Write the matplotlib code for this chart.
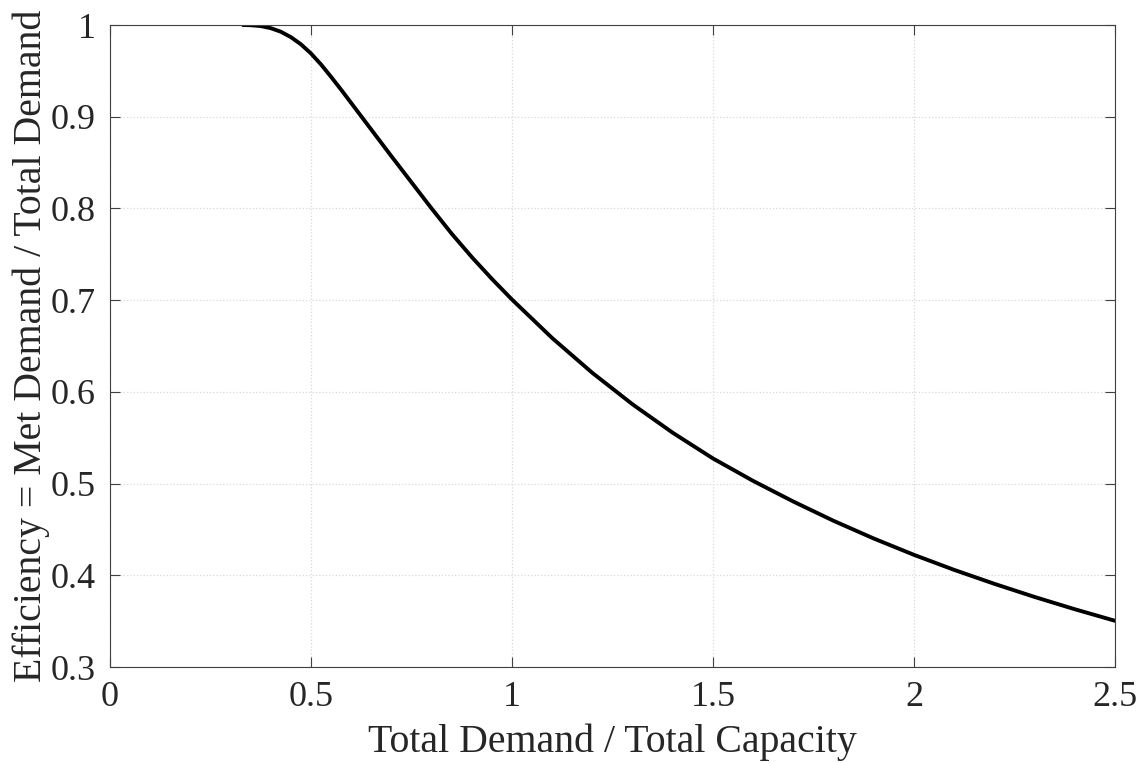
import numpy as np
import matplotlib
matplotlib.use('Agg')
import matplotlib.pyplot as plt

# values
load = [0.333, 0.35, 0.375, 0.40, 0.425, 0.45, 0.475, 0.50, 0.525, 0.55,
        0.575, 0.60, 0.625, 0.65, 0.675, 0.70, 0.75, 0.80, 0.85, 0.90,
        0.95, 1.0, 1.1, 1.2, 1.3, 1.4, 1.5, 1.6, 1.7, 1.8,
        1.9, 2.0, 2.1, 2.2, 2.3, 2.4, 2.5]
efficiency = [1.0, 0.9998, 0.9989, 0.9966, 0.9927, 0.9868, 0.979, 0.969, 0.957, 0.9435,
              0.9295, 0.915, 0.9005, 0.886, 0.8715, 0.857, 0.8285, 0.800, 0.7725, 0.747,
              0.7232, 0.7007, 0.6587, 0.6207, 0.5864, 0.5554, 0.5274, 0.5029, 0.4804, 0.4594,
              0.4401, 0.4223, 0.4059, 0.3907, 0.3764, 0.363, 0.3504]

xticks = [0, 0.5, 1, 1.5, 2, 2.5]
xticklabels = ['0', '0.5', '1', '1.5', '2', '2.5']
yticks = [0.3, 0.4, 0.5, 0.6, 0.7, 0.8, 0.9, 1.0]
yticklabels = ['0.3', '0.4', '0.5', '0.6', '0.7', '0.8', '0.9', '1']

plt.rcParams['font.family'] = ['Liberation Serif', 'DejaVu Serif']

fig = plt.figure(figsize=(11.43, 7.63), dpi=100)
ax = fig.add_axes([0.0962, 0.1258, 0.8793, 0.8414])

ax.plot(load, efficiency, color='black', lw=2.8, solid_joinstyle='round')

ax.set_xlim(0, 2.5)
ax.set_ylim(0.3, 1.0)
ax.set_xticks(xticks)
ax.set_xticklabels(xticklabels)
ax.set_yticks(yticks)
ax.set_yticklabels(yticklabels)

ax.grid(True, linestyle=':', color='#d9d9d9', lw=0.9)
ax.tick_params(direction='in', length=7, width=0.8, color='#404040',
               top=True, right=True, labelsize=26, pad=10, labelcolor='#262626')
for s in ax.spines.values():
    s.set_color('#404040')
    s.set_linewidth(0.8)

ax.set_xlabel('Total Demand / Total Capacity', fontsize=28.6, color='#262626', labelpad=7)
ax.set_ylabel('Efficiency = Met Demand / Total Demand', fontsize=28.6, color='#262626', labelpad=1)

plt.savefig('out.png', dpi=100)
